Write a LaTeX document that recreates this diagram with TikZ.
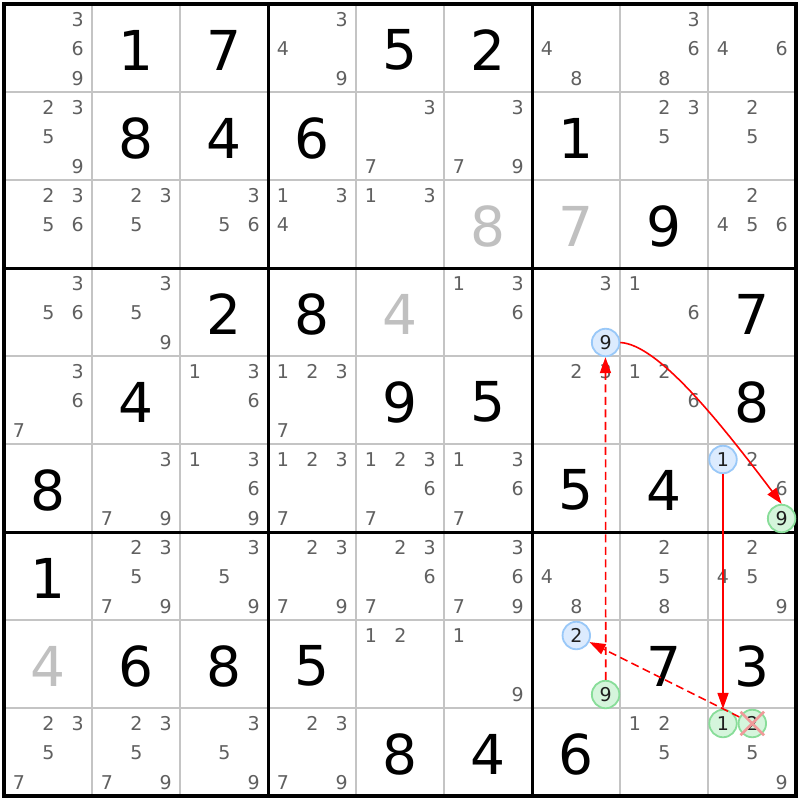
\documentclass[tikz,border=0pt]{standalone}
\usepackage{fontspec}
\setmainfont{DejaVu Sans}
\usetikzlibrary{arrows.meta}
\definecolor{candgray}{HTML}{606060}
\definecolor{solvgray}{HTML}{C0C0C0}
\definecolor{gridgray}{HTML}{C4C4C4}
\definecolor{bluefill}{HTML}{DCEBFE}
\definecolor{bluedraw}{HTML}{99C8F8}
\definecolor{greenfill}{HTML}{D5F5DC}
\definecolor{greendraw}{HTML}{88DD99}
\definecolor{crosspink}{HTML}{F09A9A}
\definecolor{linkred}{HTML}{FF0000}
\tikzset{
  cand/.style={inner sep=0pt, text=candgray, font=\fontsize{19}{19}\selectfont},
  given/.style={inner sep=0pt, text=black, font=\fontsize{55}{55}\selectfont},
  solved/.style={inner sep=0pt, text=solvgray, font=\fontsize{55}{55}\selectfont},
  hlbase/.style={circle, inner sep=0pt, minimum size=27.5pt, line width=1.8pt, text=black!88, font=\fontsize{19}{19}\selectfont},
  hlblue/.style={hlbase, draw=bluedraw, fill=bluefill},
  hlgreen/.style={hlbase, draw=greendraw, fill=greenfill},
  link/.style={draw=linkred, line width=1.6pt, -{Triangle[length=16pt,width=11pt]}},
  weaklink/.style={link, dash pattern=on 8pt off 4.5pt},
  thinline/.style={draw=gridgray, line width=1.6pt},
  thickline/.style={draw=black, line width=3pt},
}
\begin{document}
\begin{tikzpicture}[x=1pt, y=-1pt]
\useasboundingbox (0,0) rectangle (800,800);
\fill[white] (0,0) rectangle (800,800);
% thin grid
\foreach \i in {1,2,4,5,7,8} {
  \draw[thinline] ({4+88*\i},4) -- ({4+88*\i},796);
  \draw[thinline] (4,{4+88*\i}) -- (796,{4+88*\i});
}
% thick grid
\foreach \i in {3,6} {
  \draw[thickline] ({4+88*\i},4) -- ({4+88*\i},796);
  \draw[thickline] (4,{4+88*\i}) -- (796,{4+88*\i});
}
\draw[draw=black, line width=3.5pt] (4,4) rectangle (796,796);
% givens
\foreach \r/\c/\v in {1/2/1,1/3/7,1/5/5,1/6/2,
  2/2/8,2/3/4,2/4/6,2/7/1,
  3/8/9,
  4/3/2,4/4/8,4/9/7,
  5/2/4,5/5/9,5/6/5,5/9/8,
  6/1/8,6/7/5,6/8/4,
  7/1/1,
  8/2/6,8/3/8,8/4/5,8/8/7,8/9/3,
  9/5/8,9/6/4,9/7/6} {
  \node[given] (g\r\c) at ({4+88*(\c-1)+44},{4+88*(\r-1)+46}) {\v};
}
% solved (gray)
\foreach \r/\c/\v in {3/6/8,3/7/7,4/5/4,8/1/4} {
  \node[solved] (s\r\c) at ({4+88*(\c-1)+44},{4+88*(\r-1)+46}) {\v};
}
% candidates
\foreach \r/\c/\ds in {
  1/1/{3,6,9},1/4/{3,4,9},1/7/{4,8},1/8/{3,6,8},1/9/{4,6},
  2/1/{2,3,5,9},2/5/{3,7},2/6/{3,7,9},2/8/{2,3,5},2/9/{2,5},
  3/1/{2,3,5,6},3/2/{2,3,5},3/3/{3,5,6},3/4/{1,3,4},3/5/{1,3},3/9/{2,4,5,6},
  4/1/{3,5,6},4/2/{3,5,9},4/6/{1,3,6},4/7/{3},4/8/{1,6},
  5/1/{3,6,7},5/3/{1,3,6},5/4/{1,2,3,7},5/7/{2,3},5/8/{1,2,6},
  6/2/{3,7,9},6/3/{1,3,6,9},6/4/{1,2,3,7},6/5/{1,2,3,6,7},6/6/{1,3,6,7},6/9/{2,6},
  7/2/{2,3,5,7,9},7/3/{3,5,9},7/4/{2,3,7,9},7/5/{2,3,6,7},7/6/{3,6,7,9},7/7/{4,8},7/8/{2,5,8},7/9/{2,4,5,9},
  8/5/{1,2},8/6/{1,9},
  9/1/{2,3,5,7},9/2/{2,3,5,7,9},9/3/{3,5,9},9/4/{2,3,7,9},9/8/{1,2,5},9/9/{5,9}} {
  \foreach \d in \ds {
    \pgfmathsetmacro\px{4+88*(\c-1)+15+29.3*mod(\d-1,3)}
    \pgfmathsetmacro\py{4+88*(\r-1)+15.5+29.5*floor((\d-1)/3)}
    \node[cand] (c\r\c\d) at (\px,\py) {\d};
  }
}
% highlighted candidates
\node[hlblue]  (h479) at ({4+88*6+73.6},{4+88*3+74.5}) {9};
\node[hlblue]  (h691) at ({4+88*8+15},{4+88*5+15.5}) {1};
\node[hlgreen] (h699) at ({4+88*8+73.6},{4+88*5+74.5}) {9};
\node[hlblue]  (h872) at ({4+88*6+44.3},{4+88*7+15.5}) {2};
\node[hlgreen] (h879) at ({4+88*6+73.6},{4+88*7+74.5}) {9};
\node[hlgreen] (h991) at ({4+88*8+15},{4+88*8+15.5}) {1};
\node[hlgreen] (h992) at ({4+88*8+44.3},{4+88*8+15.5}) {2};
% elimination cross
\draw[crosspink, line width=2.6pt, shorten <=-2pt, shorten >=-2pt] (h992.north west) -- (h992.south east);
\draw[crosspink, line width=2.6pt, shorten <=-2pt, shorten >=-2pt] (h992.north east) -- (h992.south west);
% links
\draw[weaklink] ([xshift=0.15pt]h879.north) -- ([xshift=-0.15pt]h479.south);
\draw[link] (h479.east) .. controls +(38,2) and +(-62,-82) .. (h699.north);
\draw[link] (h691.south) -- (h991.north);
\draw[weaklink] (h992) -- (h872);
\end{tikzpicture}
\end{document}
